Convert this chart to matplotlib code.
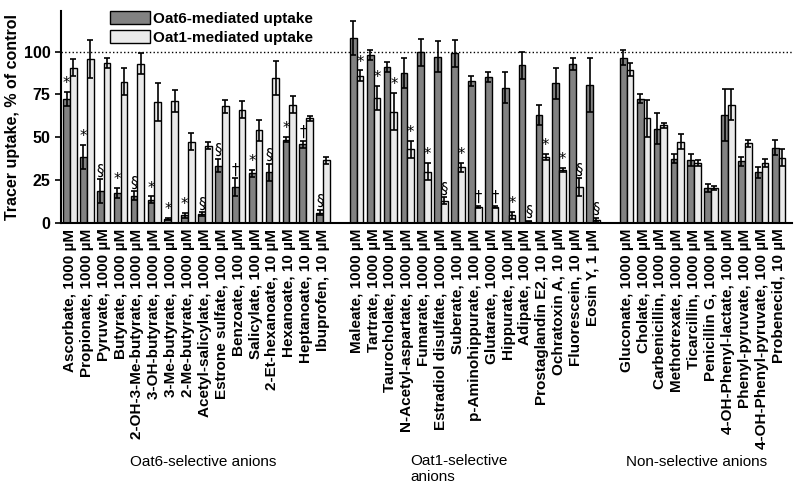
import numpy as np
import matplotlib.pyplot as plt

plt.rcParams['font.family'] = ['Liberation Sans', 'DejaVu Sans']

# Data
labels_oat6 = ["Ascorbate, 1000 µM", "Propionate, 1000 µM", "Pyruvate, 1000 µM", "Butyrate, 1000 µM",
               "2-OH-3-Me-butyrate, 1000 µM", "3-OH-butyrate, 1000 µM", "3-Me-butyrate, 1000 µM",
               "2-Me-butyrate, 1000 µM", "Acetyl-salicylate, 1000 µM", "Estrone sulfate, 100 µM",
               "Benzoate, 100 µM", "Salicylate, 100 µM", "2-Et-hexanoate, 10 µM", "Hexanoate, 10 µM",
               "Heptanoate, 10 µM", "Ibuprofen, 10 µM"]
labels_oat1 = ["Maleate, 1000 µM", "Tartrate, 1000 µM", "Taurocholate, 1000 µM",
               "N-Acetyl-aspartate, 1000 µM", "Fumarate, 1000 µM", "Estradiol disulfate, 1000 µM",
               "Suberate, 100 µM", "p-Aminohippurate, 100 µM", "Glutarate, 1000 µM",
               "Hippurate, 100 µM", "Adipate, 100 µM", "Prostaglandin E2, 10 µM",
               "Ochratoxin A, 10 µM", "Fluorescein, 10 µM", "Eosin Y, 1 µM"]
labels_non = ["Gluconate, 1000 µM", "Cholate, 1000 µM", "Carbenicillin, 1000 µM",
              "Methotrexate, 1000 µM", "Ticarcillin, 1000 µM", "Penicillin G, 1000 µM",
              "4-OH-Phenyl-lactate, 100 µM", "Phenyl-pyruvate, 100 µM",
              "4-OH-Phenyl-pyruvate, 100 µM", "Probenecid, 10 µM"]

oat6_mean = [72.5, 38.5, 18.5, 17.5, 16, 13.5, 2.5, 4.5, 5.2, 33.5, 21, 29, 29.5, 48.5, 46, 6,
             108, 98, 91, 87.5, 99.5, 97, 99, 83, 85, 79, 92, 63, 81.5, 92.5, 80.5,
             96.5, 72.5, 55, 37.5, 37, 20.5, 63, 36, 29.5, 44]
oat6_err = [4, 7, 7, 3, 2.5, 2, 0.7, 1.5, 1, 4, 5, 2, 5, 1.5, 2, 1.5,
            10, 3, 3, 8.5, 8, 9, 8, 3, 3, 9, 8, 6, 9, 3.5, 15.5,
            4.5, 2.5, 9, 2.5, 3.5, 2.5, 15, 2.5, 3, 4.5]
oat1_mean = [90.5, 95.5, 93.5, 82.5, 93, 70.5, 71, 47.5, 45, 68, 66, 54, 84.5, 69, 61, 36.5,
             86, 73, 65, 43, 30, 13, 32.5, 9.5, 9.5, 4.5, 0.8, 38.5, 31, 21, 1.8,
             89.5, 61, 57, 47.5, 35, 20.5, 69, 46.5, 35, 38]
oat1_err = [5, 11, 3, 8, 6, 11, 6.5, 5, 2, 4, 5, 6, 10, 5, 1.5, 2,
            3, 7, 11, 5, 5, 2, 2.5, 0.6, 0.6, 2, 0.4, 2, 1, 5, 1.2,
            4, 11, 1.5, 4.5, 2, 1, 9, 2, 2.5, 5]
oat6_sig = ["*", "*", "§", "*", "§", "*", "*", "*", "§", "§", "†", "*", "§", "*", "†", "§"] + [""] * 25
oat1_sig = [""] * 16 + ["*", "*", "*", "*", "*", "§", "*", "†", "†", "*", "§", "*", "*", "§", "§"] + [""] * 10

labels = labels_oat6 + labels_oat1 + labels_non
x = np.concatenate([np.arange(16), np.arange(17, 32), np.arange(33, 43)])
bar_width = 0.4

fig = plt.figure(figsize=(8, 4.92), dpi=100)
ax = fig.add_axes([61 / 800, 1 - 223 / 492, (792 - 61) / 800, (223 - 10.5) / 492])

ax.bar(x - bar_width / 2, oat6_mean, width=bar_width, color="#828282", edgecolor="black",
       linewidth=1, label="Oat6-mediated uptake", zorder=2)
ax.bar(x + bar_width / 2, oat1_mean, width=bar_width, color="#eaeaea", edgecolor="black",
       linewidth=1, label="Oat1-mediated uptake", zorder=2)
ax.errorbar(x - bar_width / 2, oat6_mean, yerr=oat6_err, fmt="none", ecolor="black",
            elinewidth=1.2, capsize=2, capthick=1.2, zorder=3)
ax.errorbar(x + bar_width / 2, oat1_mean, yerr=oat1_err, fmt="none", ecolor="black",
            elinewidth=1.2, capsize=2, capthick=1.2, zorder=3)

# significance marks
for i in range(len(x)):
    if oat6_sig[i]:
        ax.text(x[i] - bar_width / 2, oat6_mean[i] + oat6_err[i] + 0.5, oat6_sig[i],
                ha="center", va="bottom", fontsize=10.5, family=["DejaVu Sans"])
    if oat1_sig[i]:
        ax.text(x[i] + bar_width / 2, oat1_mean[i] + oat1_err[i] + 0.5, oat1_sig[i],
                ha="center", va="bottom", fontsize=10.5, family=["DejaVu Sans"])

ax.axhline(100, color="black", linestyle=":", linewidth=1, zorder=1)

ax.set_xlim(-0.53, 42.8)
ax.set_ylim(0, 124)
ax.set_yticks([0, 25, 50, 75, 100])
ax.set_yticklabels(["0", "25", "50", "75", "100"], fontsize=11.5, fontweight="bold")
ax.set_xticks(x)
ax.set_xticklabels(labels, rotation=90, fontsize=11, fontweight="bold")
ax.tick_params(axis="x", length=0, pad=4)
ax.tick_params(axis="y", length=4, width=1.2)
ax.spines["top"].set_visible(False)
ax.spines["right"].set_visible(False)
ax.spines["left"].set_linewidth(1.5)
ax.spines["bottom"].set_linewidth(1.5)
ax.set_ylabel("Tracer uptake, % of control", fontsize=11.5, fontweight="bold", labelpad=3)

ax.legend(loc="upper left", bbox_to_anchor=(101 / 800, 1.0 - 2 / 492), bbox_transform=fig.transFigure,
          frameon=False, prop={"weight": "bold", "size": 11}, handlelength=2.6,
          handleheight=0.9, labelspacing=0.3, borderpad=0.1, handletextpad=0.2)

fig.text(203 / 800, 1 - 462 / 492, "Oat6-selective anions", ha="center", va="center", fontsize=11)
fig.text(410 / 800, 1 - 454 / 492, "Oat1-selective\nanions", ha="left", va="top", fontsize=11,
         linespacing=1.2)
fig.text(626 / 800, 1 - 462 / 492, "Non-selective anions", ha="left", va="center", fontsize=11)

plt.savefig("out.png", dpi=100)
